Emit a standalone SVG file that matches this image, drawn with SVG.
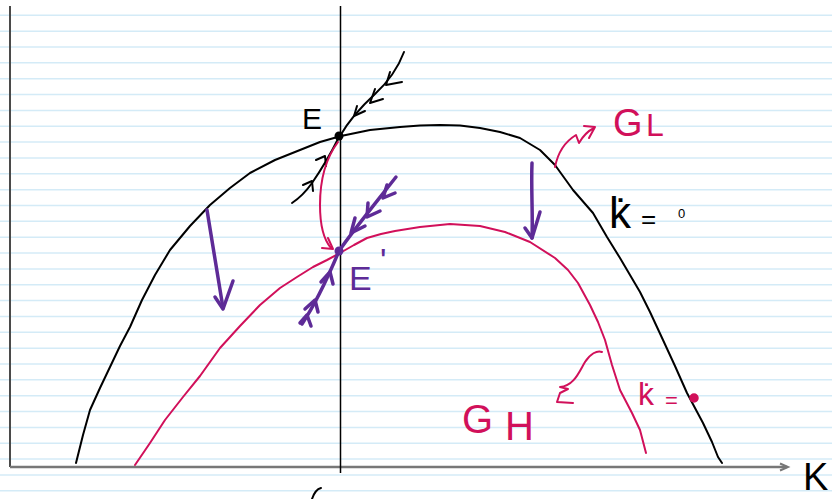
<svg xmlns="http://www.w3.org/2000/svg" width="832" height="499" viewBox="0 0 832 499">
<style>
.rule{stroke:#d4ebf7;stroke-width:1.5}
.blk{fill:none;stroke:#000;stroke-width:2;stroke-linecap:round;stroke-linejoin:round}
.red{fill:none;stroke:#d1105a;stroke-width:2;stroke-linecap:round;stroke-linejoin:round}
.pur{fill:none;stroke:#5e2b97;stroke-width:3.5;stroke-linecap:round;stroke-linejoin:round}
.t{font-family:"Liberation Sans",Arial,sans-serif}
</style>
<rect width="832" height="499" fill="#fff"/>
<g id="paper">
<line class="rule" x1="0" x2="832" y1="15.3" y2="15.3"/>
<line class="rule" x1="0" x2="832" y1="31.15" y2="31.15"/>
<line class="rule" x1="0" x2="832" y1="47" y2="47"/>
<line class="rule" x1="0" x2="832" y1="62.85" y2="62.85"/>
<line class="rule" x1="0" x2="832" y1="78.7" y2="78.7"/>
<line class="rule" x1="0" x2="832" y1="94.55" y2="94.55"/>
<line class="rule" x1="0" x2="832" y1="110.4" y2="110.4"/>
<line class="rule" x1="0" x2="832" y1="126.25" y2="126.25"/>
<line class="rule" x1="0" x2="832" y1="142.1" y2="142.1"/>
<line class="rule" x1="0" x2="832" y1="157.95" y2="157.95"/>
<line class="rule" x1="0" x2="832" y1="173.8" y2="173.8"/>
<line class="rule" x1="0" x2="832" y1="189.65" y2="189.65"/>
<line class="rule" x1="0" x2="832" y1="205.5" y2="205.5"/>
<line class="rule" x1="0" x2="832" y1="221.35" y2="221.35"/>
<line class="rule" x1="0" x2="832" y1="237.2" y2="237.2"/>
<line class="rule" x1="0" x2="832" y1="253.05" y2="253.05"/>
<line class="rule" x1="0" x2="832" y1="268.9" y2="268.9"/>
<line class="rule" x1="0" x2="832" y1="284.75" y2="284.75"/>
<line class="rule" x1="0" x2="832" y1="300.6" y2="300.6"/>
<line class="rule" x1="0" x2="832" y1="316.45" y2="316.45"/>
<line class="rule" x1="0" x2="832" y1="332.3" y2="332.3"/>
<line class="rule" x1="0" x2="832" y1="348.15" y2="348.15"/>
<line class="rule" x1="0" x2="832" y1="364" y2="364"/>
<line class="rule" x1="0" x2="832" y1="379.85" y2="379.85"/>
<line class="rule" x1="0" x2="832" y1="395.7" y2="395.7"/>
<line class="rule" x1="0" x2="832" y1="411.55" y2="411.55"/>
<line class="rule" x1="0" x2="832" y1="427.4" y2="427.4"/>
<line class="rule" x1="0" x2="832" y1="443.25" y2="443.25"/>
<line class="rule" x1="0" x2="832" y1="459.1" y2="459.1"/>
<line class="rule" x1="0" x2="832" y1="474.95" y2="474.95"/>
<line class="rule" x1="0" x2="832" y1="490.8" y2="490.8"/>
</g>
<g id="axes">
<line x1="10" y1="6" x2="10" y2="467" stroke="#4a4a4a" stroke-width="2"/>
<line x1="10" y1="467" x2="787" y2="467" stroke="#777" stroke-width="2.5"/>
<polyline points="780,463.5 788,467 780,470.5" fill="none" stroke="#777" stroke-width="2"/>
<line x1="340.5" y1="6" x2="340.5" y2="473" stroke="#000" stroke-width="1.5"/>
<path class="blk" d="M312,499 C314,493 317,489 321,488"/>
<text class="t" x="803" y="490" font-size="38" fill="#000">K</text>
</g>
<g id="curve-GL">
<polyline class="blk" points="76,463 83,435 90,410 100,388 110,367 120,346 130,327 142,300 155,275 170,250 190,226 210,205 230,188 250,173 275,160 300,150 320,142 341,136 370,130 400,127 420,125.5 440,125 460,125.5 480,128 500,132 520,138 540,150 555,165 573,190 593,213 607,237 620,258 630,275 640,292 650,312 663,340 675,366 687,393 703,423 712,442 718,457 722,463"/>
</g>
<g id="curve-GH">
<polyline class="red" points="135,465 150,443 165,420 183,397 200,376 220,348 240,326 260,305 280,288 297,277 313,267 327,260 340,253 354,245 367,238 381,234 395,231 420,227 450,224 480,226 505,232 530,242 555,258 568,270 578,283 590,305 598,322 605,340 612,365 620,390 632,413 640,430 646,453"/>
</g>
<g id="node-E">
<circle cx="339" cy="136" r="4.5" fill="#000"/>
<text class="t" x="302" y="129" font-size="30" fill="#000">E</text>
</g>
<g id="node-E-prime">
<circle cx="339" cy="251" r="4.5" fill="#5e2b97"/>
<text class="t" x="349" y="290" font-size="34" fill="#5e2b97">E<tspan x="380" y="272">'</tspan></text>
</g>
<g id="label-GL">
<text class="t" x="613" y="136" font-size="38" fill="#d1105a">G<tspan x="646" font-size="32">L</tspan></text>
</g>
<g id="label-GH">
<text class="t" x="462" y="433" font-size="40" fill="#d1105a">G<tspan x="505" y="440">H</tspan></text>
</g>
<g id="label-kdot-black">
<text class="t" x="609" y="228" font-size="44" fill="#000">k̇<tspan x="641" font-size="26">=</tspan><tspan x="678" y="218" font-size="13">0</tspan></text>
</g>
<g id="label-kdot-red">
<text class="t" x="638" y="405" font-size="32" fill="#d1105a">k̇<tspan x="665" y="408" font-size="22">=</tspan></text>
<circle cx="694" cy="398" r="4" fill="#d1105a" stroke="#d1105a" stroke-width="1.5"/>
</g>
<g id="connectors">
<path class="blk" d="M340,136 C348,122 362,106 375,94 C388,82 398,68 404,52"/>
<polyline class="blk" points="390,72 386,85 402,82"/>
<polyline class="blk" points="375,89 370,103 383,99"/>
<polyline class="blk" points="357,106 354,116 365,111"/>
<path class="blk" d="M338,139 C330,155 321,170 312,183 C305,193 298,199 292,203"/>
<polyline class="blk" points="316,160 325,156 326,166"/>
<polyline class="blk" points="303,185 312,181 313,191"/>
<path class="red" d="M338,142 C326,158 320,180 320,205 C320,225 324,240 331,248"/>
<polyline class="red" points="322,248 333,249 328,238"/>
<path class="pur" d="M339,251 C352,232 370,210 396,177"/>
<polyline class="pur" points="355,218 351,233 365,226"/>
<polyline class="pur" points="368,203 367,217 380,211"/>
<polyline class="pur" points="387,185 383,198 395,193"/>
<path class="pur" d="M339,251 C331,270 318,300 302,324"/>
<polyline class="pur" points="321,282 330,272 333,284"/>
<polyline class="pur" points="305,309 315,300 318,312"/>
<polyline class="pur" points="300,323 307,315 311,326"/>
<path class="pur" d="M207,210 L223,308"/>
<polyline class="pur" points="215,297 223,309 233,281"/>
<path class="pur" d="M532,163 C531,190 533,215 532,238"/>
<polyline class="pur" points="525,228 532,238 540,212"/>
<path class="red" d="M555,167 C558,152 566,141 576,135 L579,143 C583,136 588,131 594,128"/>
<polyline class="red" points="584,126 595,127 589,138"/>
<path class="red" d="M573,403 L557,402 L560,393 L568,389 L560,387 C574,386 579,372 585,362 C590,354 597,350 602,352"/>
</g>
</svg>
